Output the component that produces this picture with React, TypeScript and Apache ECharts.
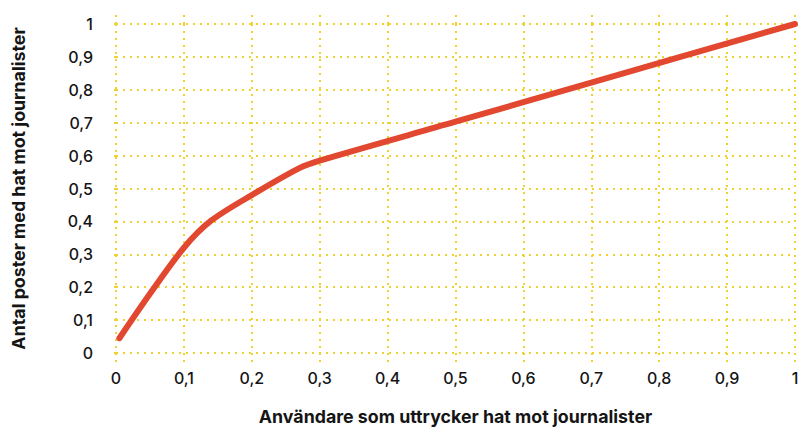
import React, { useEffect, useRef } from "react";
import * as echarts from "echarts";

const xValues = [0.005, 0.05, 0.1, 0.14, 0.2, 0.27, 0.3, 0.5, 0.7, 1];
const yValues = [0.045, 0.18, 0.32, 0.402, 0.48, 0.562, 0.585, 0.703, 0.822, 1];
const xAxisTitle = "Användare som uttrycker hat mot journalister";
const yAxisTitle = "Antal poster med hat mot journalister";

const fmt = (v: number) => {
  const r = Math.round(v * 10) / 10;
  if (r === 0 || r === 1) return String(r);
  return r.toFixed(1).replace(".", ",");
};

export default function App() {
  const ref = useRef<HTMLDivElement>(null);
  useEffect(() => {
    if (!ref.current) return;
    const chart = echarts.init(ref.current, undefined, { renderer: "svg" });
    const gridColor = "#f0d22e";
    const dotted = { color: gridColor, width: 2, type: [2, 5] as any };
    const font = "Inter, Roboto, sans-serif";
    chart.setOption({
      animation: false,
      grid: { left: 116, right: 8, top: 24, bottom: 73 },
      xAxis: [
        {
          type: "value",
          min: 0,
          max: 1,
          interval: 0.1,
          position: "bottom",
          axisLine: { show: false },
          axisTick: { show: true, length: 9, lineStyle: dotted },
          splitLine: { show: true, lineStyle: dotted },
          axisLabel: { formatter: fmt, color: "#151515", fontSize: 16, fontWeight: 500, margin: 17, fontFamily: font },
          name: xAxisTitle,
          nameLocation: "middle",
          nameGap: 54,
          nameTextStyle: { fontWeight: "bold", fontSize: 17.8, color: "#151515", fontFamily: font },
        },
        {
          type: "value",
          min: 0,
          max: 1,
          interval: 0.1,
          position: "top",
          axisLine: { show: false },
          axisTick: { show: true, length: 10, lineStyle: dotted },
          splitLine: { show: false },
          axisLabel: { show: false },
        },
      ],
      yAxis: {
        type: "value",
        min: 0,
        max: 1,
        interval: 0.1,
        axisLine: { show: false },
        axisTick: { show: true, length: 7, lineStyle: dotted },
        splitLine: { show: true, lineStyle: dotted },
        axisLabel: { formatter: fmt, color: "#151515", fontSize: 16, fontWeight: 500, margin: 23, fontFamily: font },
        name: yAxisTitle,
        nameLocation: "middle",
        nameGap: 89,
        nameTextStyle: { fontWeight: "bold", fontSize: 17.8, color: "#151515", fontFamily: font },
      },
      series: [
        {
          type: "line",
          xAxisIndex: 0,
          data: xValues.map((x, i) => [x, yValues[i]]),
          smooth: 0.3,
          showSymbol: false,
          symbol: "none",
          lineStyle: { color: "#e2472f", width: 6, cap: "round", join: "round" },
        },
      ],
    });
    return () => chart.dispose();
  }, []);
  return (
    <div
      ref={ref}
      style={{ position: "absolute", left: 0, top: 0, width: 803, height: 430 }}
    />
  );
}
